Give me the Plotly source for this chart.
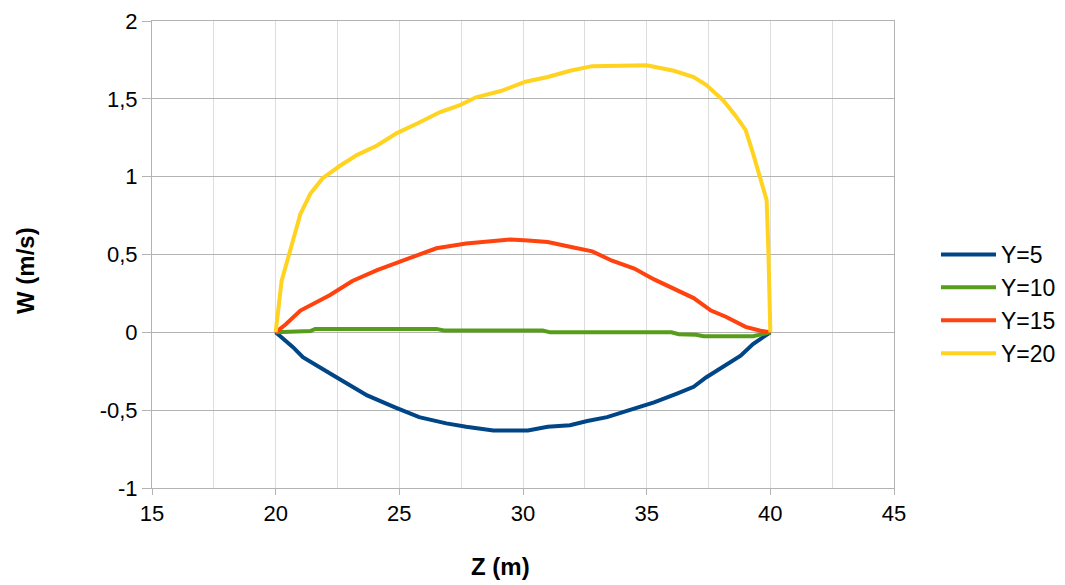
import plotly.graph_objects as go

# Y=5
z_y5 = [20.0, 20.3, 20.7, 21.1, 21.6, 22.1, 22.9, 23.7, 24.8, 25.8, 26.9, 27.7, 28.8,
        29.9, 30.2, 31.0, 31.9, 32.6, 33.4, 34.3, 35.3, 36.2, 36.9, 37.4, 38.1, 38.8, 39.3, 40.0]
w_y5 = [0.0, -0.04, -0.095, -0.16, -0.21, -0.255, -0.33, -0.405, -0.48, -0.545, -0.585, -0.607, -0.63,
        -0.63, -0.63, -0.607, -0.597, -0.57, -0.545, -0.50, -0.45, -0.395, -0.35, -0.29, -0.22, -0.15, -0.075, 0.0]

# Y=10
z_y10 = [20.0, 21.4, 21.6, 26.5, 26.8, 30.8, 31.1, 36.0, 36.3, 37.0, 37.3, 39.3, 40.0]
w_y10 = [0.0, 0.008, 0.022, 0.022, 0.012, 0.012, 0.0, 0.0, -0.012, -0.015, -0.025, -0.025, 0.0]

# Y=15
z_y15 = [20.0, 20.4, 21.0, 21.6, 22.2, 23.1, 24.1, 25.3, 26.5, 27.7, 28.8, 29.5, 30.2,
         31.0, 31.9, 32.8, 33.6, 34.5, 35.3, 36.1, 36.9, 37.6, 38.2, 39.0, 39.6, 40.0]
w_y15 = [0.0, 0.05, 0.14, 0.19, 0.24, 0.33, 0.40, 0.47, 0.54, 0.57, 0.587, 0.597, 0.59,
         0.58, 0.55, 0.52, 0.46, 0.41, 0.34, 0.28, 0.22, 0.14, 0.10, 0.035, 0.01, 0.0]

# Y=20
z_y20 = [20.0, 20.24, 20.7, 21.0, 21.4, 21.9, 22.6, 23.3, 24.1, 24.9, 25.7, 26.65, 27.45, 28.1,
         29.1, 30.1, 31.0, 31.9, 32.8, 33.9, 35.0, 36.1, 36.9, 37.4, 38.1, 38.6, 39.0, 39.3,
         39.6, 39.85, 39.92, 40.0]
w_y20 = [0.0, 0.33, 0.59, 0.76, 0.89, 0.99, 1.07, 1.14, 1.20, 1.28, 1.34, 1.415, 1.46, 1.51,
         1.55, 1.61, 1.64, 1.68, 1.71, 1.715, 1.715, 1.68, 1.64, 1.59, 1.49, 1.39, 1.30, 1.15,
         0.98, 0.85, 0.53, 0.0]

series_names = ["Y=5", "Y=10", "Y=15", "Y=20"]
series_colors = ["#004586", "#579D1C", "#FF420E", "#FFD320"]

y_tickvals = [2, 1.5, 1, 0.5, 0, -0.5, -1]
y_ticktext = ["2", "1,5", "1", "0,5", "0", "-0,5", "-1"]
x_tickvals = [15, 20, 25, 30, 35, 40, 45]

fig = go.Figure()
for name, col, zs, ws in zip(series_names, series_colors,
                             [z_y5, z_y10, z_y15, z_y20], [w_y5, w_y10, w_y15, w_y20]):
    fig.add_trace(go.Scatter(x=zs, y=ws, mode="lines", name=name,
                             line=dict(color=col, width=4)))

font = "Liberation Sans, Arial, sans-serif"
L, R, T, B = 152, 171, 21, 97
W, H = 1065, 585
pw, ph = W - L - R, H - T - B

fig.update_layout(
    width=W, height=H,
    margin=dict(l=L, r=R, t=T, b=B, autoexpand=False),
    paper_bgcolor="white", plot_bgcolor="white",
    font=dict(family=font, size=22, color="#000000"),
    showlegend=True,
    legend=dict(x=(936 - L) / pw, y=(H - B - 304) / ph, xanchor="left", yanchor="middle",
                font=dict(size=23), tracegroupgap=0, itemwidth=55,
                bgcolor="rgba(0,0,0,0)"),
    xaxis=dict(range=[15, 45], tickvals=x_tickvals, showgrid=False,
               ticks="outside", ticklen=6, tickcolor="#b3b3b3",
               showline=True, linecolor="#b3b3b3", linewidth=1, mirror=True,
               zeroline=False,
               minor=dict(dtick=2.5, tick0=15, showgrid=True, gridcolor="#dddddd", gridwidth=1, ticks="")),
    yaxis=dict(range=[-1, 2], tickvals=y_tickvals, ticktext=y_ticktext,
               showgrid=True, gridcolor="#b3b3b3", gridwidth=1,
               ticks="outside", ticklen=9, tickcolor="#b3b3b3",
               showline=True, linecolor="#b3b3b3", linewidth=1, mirror=True,
               zeroline=False),
    annotations=[
        dict(text="<b>Z (m)</b>", x=(500 - L) / pw, y=(H - B - 566) / ph,
             xref="paper", yref="paper", xanchor="center", yanchor="middle",
             showarrow=False, font=dict(size=24)),
        dict(text="<b>W (m/s)</b>", textangle=-90, x=(25 - L) / pw, y=(H - B - 270) / ph,
             xref="paper", yref="paper", xanchor="center", yanchor="middle",
             showarrow=False, font=dict(size=24)),
    ],
)

fig.write_html("out.html", post_script="document.body.style.margin='0';",
               config={"displayModeBar": False})
